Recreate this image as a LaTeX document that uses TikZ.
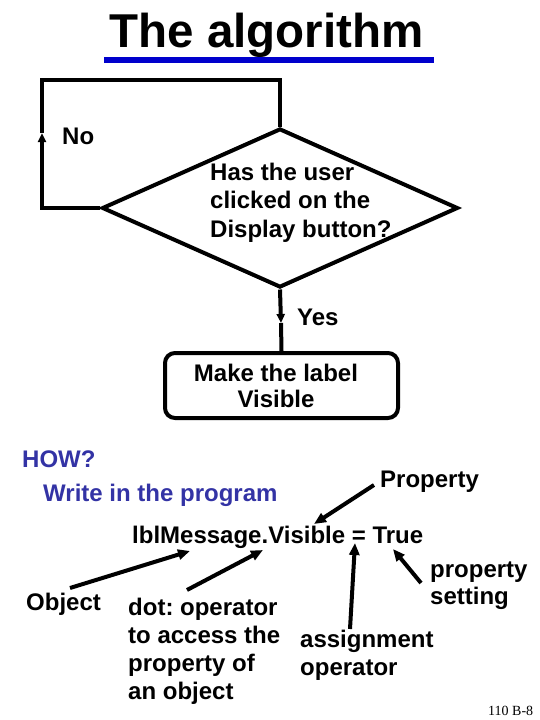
\documentclass[tikz,border=0pt]{standalone}
\usepackage{fontspec}
\setmainfont{Liberation Sans}
\newfontfamily\serifnum{Liberation Serif}
\usetikzlibrary{shapes.geometric,arrows.meta}
\definecolor{howblue}{RGB}{51,51,165}
\definecolor{ulblue}{RGB}{0,0,204}
\frenchspacing
\tikzset{
  flow/.style={line width=4pt, line join=miter},
  midarrow/.style={-{Triangle[length=9pt,width=8pt]}},
  ann/.style={line width=4pt, -{Triangle[length=12pt,width=10pt]}},
  txt/.style={inner sep=0pt, font=\fontsize{24}{28.5}\selectfont\bfseries},
  bluetxt/.style={txt, text=howblue},
}
\begin{document}
\begin{tikzpicture}[x=1pt,y=-1pt]
\useasboundingbox (0,0) rectangle (540,720);
\fill[white] (0,0) rectangle (540,720);
% title
\node[inner sep=0pt, anchor=base, font=\fontsize{47.5}{50}\selectfont\bfseries] (title) at (266.5,47) {The algorithm};
\fill[ulblue] (104,57) rectangle (434,63);
% decision
\node[diamond, draw, line width=4pt, minimum width=356pt, minimum height=159pt, inner sep=0pt] (d) at (280,208) {};
\node[txt, anchor=base west] (q1) at (210,180) {Has the user};
\node[txt, anchor=base west] (q2) at (210,208.5) {clicked on the};
\node[txt, anchor=base west] (q3) at (210,237) {Display button?};
% loop back (No)
\coordinate (lb) at (42,208);
\coordinate (noarr) at (42,133);
\coordinate (lt) at (42,80);
\coordinate (rt) at (280,80);
\draw[flow, midarrow] (d.west) -- (lb) -- (noarr);
\draw[flow] (noarr) -- (lt) -- (rt) -- (d.north);
\node[txt, anchor=base west] (no) at (62,144) {No};
% action box
\node[draw, line width=4pt, rounded corners=10pt, minimum width=233pt, minimum height=65pt, inner sep=0pt] (mk) at (281.5,385.5) {};
\node[txt, align=center] (mkt) at (276,386) {Make the label\\[-2.5pt]Visible};
\coordinate (yesarr) at (281,323);
\draw[flow, midarrow] (d.south) -- (yesarr);
\draw[flow] (yesarr) -- (mk.north);
\node[txt, anchor=base west] (yes) at (297,325) {Yes};
% how
\node[bluetxt, anchor=base west] (how) at (22,467) {HOW?};
\node[bluetxt, anchor=base west] (write) at (43,501) {Write in the program};
% code line and annotations
\node[txt, anchor=base west] (code) at (132,543) {lblMessage.Visible = True};
\node[txt, anchor=base west] (prop) at (380,487) {Property};
\node[txt, anchor=base west] (obj) at (26,610) {Object};
\node[txt, anchor=base west] (dot1) at (128,615) {dot: operator};
\node[txt, anchor=base west] (dot2) at (128,643) {to access the};
\node[txt, anchor=base west] (dot3) at (128,671) {property of};
\node[txt, anchor=base west] (dot4) at (128,699) {an object};
\node[txt, anchor=base west] (asg1) at (300,647) {assignment};
\node[txt, anchor=base west] (asg2) at (300,675) {operator};
\node[txt, anchor=base west] (ps1) at (430,577) {property};
\node[txt, anchor=base west] (ps2) at (430,604) {setting};
\node[inner sep=0pt, anchor=base west, font=\serifnum\fontsize{14}{16}\selectfont] (pg) at (488,715) {110 B-8};
% annotation arrows
\coordinate (propT) at (374,485);
\coordinate (propH) at (314,524);
\coordinate (objT) at (70,588);
\coordinate (objH) at (190,551);
\coordinate (dotT) at (187,590);
\coordinate (dotH) at (263,550);
\coordinate (asgT) at (350,629);
\coordinate (asgH) at (355,543);
\coordinate (psT) at (421,583);
\coordinate (psH) at (393,549);
\draw[ann] (propT) -- (propH);
\draw[ann] (objT) -- (objH);
\draw[ann] (dotT) -- (dotH);
\draw[ann] (asgT) -- (asgH);
\draw[ann] (psT) -- (psH);
\end{tikzpicture}
\end{document}
